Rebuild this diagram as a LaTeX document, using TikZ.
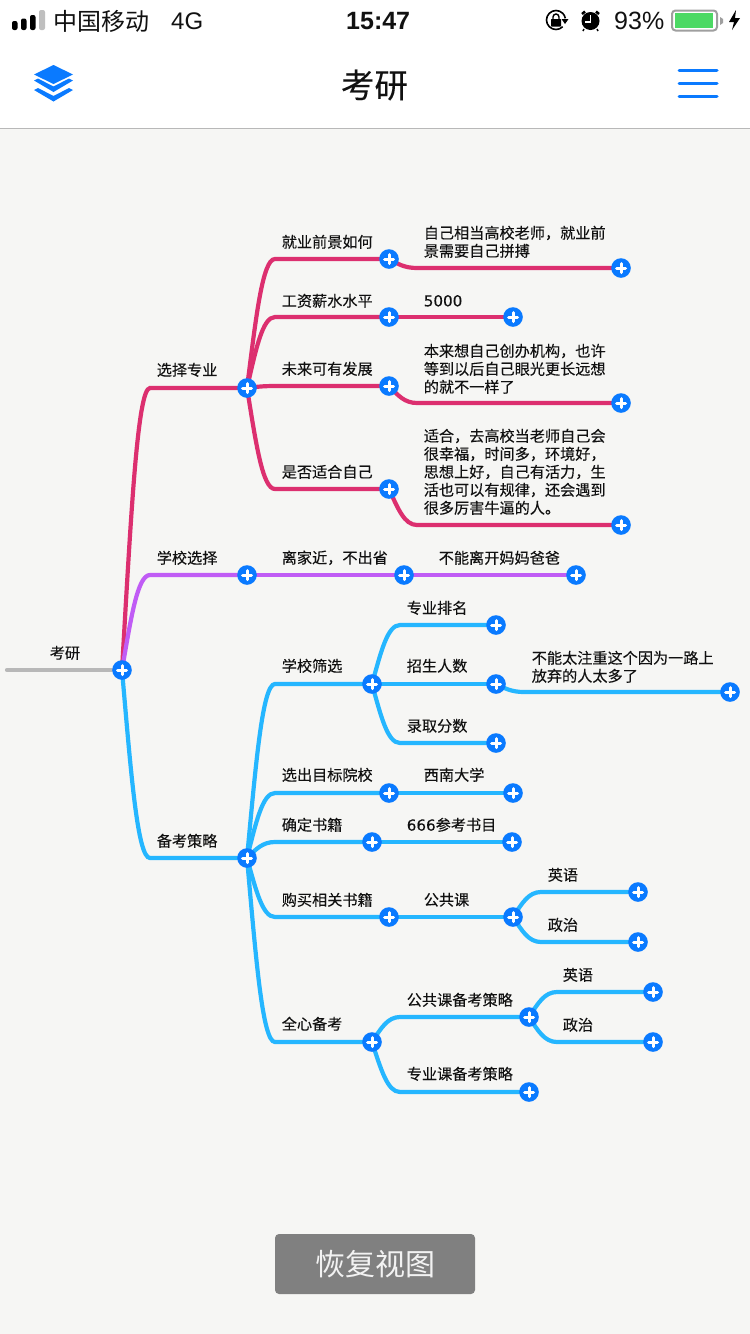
\documentclass[tikz,border=0pt]{standalone}
\usepackage{fontspec}
\setmainfont{Noto Sans CJK SC}
\newfontfamily\medf[FakeBold=0.2]{Noto Sans CJK SC}
\newfontfamily\digitf[FakeBold=0.1]{DejaVu Sans}
\newfontfamily\latinf{Liberation Sans}
\usetikzlibrary{calc,backgrounds}
\definecolor{bgc}{HTML}{F6F6F4}
\definecolor{pinkc}{HTML}{DC2F6F}
\definecolor{purpc}{HTML}{C05CF5}
\definecolor{bluec}{HTML}{25B6FF}
\definecolor{grayc}{HTML}{B8B8B8}
\definecolor{plusc}{HTML}{0A7AFF}
\definecolor{txtc}{HTML}{111111}
\definecolor{battg}{HTML}{4CD964}
\tikzset{
 x=1pt,y=-1pt,
 pl/.style={circle,fill=plusc,minimum size=19.6pt,inner sep=0pt,
  path picture={\draw[white,line width=3pt,line cap=round] ([xshift=-4.5pt]path picture bounding box.center)--([xshift=4.5pt]path picture bounding box.center);
  \draw[white,line width=3pt,line cap=round] ([yshift=-4.5pt]path picture bounding box.center)--([yshift=4.5pt]path picture bounding box.center);}},
 lab/.style={anchor=west,inner sep=0pt,align=left,text=txtc,xshift=-0.4pt,yshift=0.2pt,font=\medf\fontsize{15.15}{18}\selectfont},
 lnk/.style={line width=4.2pt,line cap=round},
 pk/.style={lnk,draw=pinkc},
 pu/.style={lnk,draw=purpc},
 bl/.style={lnk,draw=bluec},
 gr/.style={lnk,draw=grayc},
 stat/.style={anchor=west,inner sep=0pt,text=txtc},
}
\newcommand\conn[3]{\draw[#1] let \p1=(#2),\p2=(#3) in (\p1) .. controls ({\x1+9pt},{\y1+0.55*(\y2-\y1)}) and ({\x1+15.5pt},\y2) .. ({\x1+28pt},\y2) -- (\p2);}
\begin{document}
\begin{tikzpicture}
\useasboundingbox (0,0) rectangle (750,1334);
% plus nodes
\node[pl] (root) at (122,670) {};
\coordinate (start) at (7,670);
\node[pl] (a) at (247,388) {};
\node[pl] (a1) at (389,259) {};
\node[pl] (a2) at (389,317) {};
\node[pl] (a3) at (389,386) {};
\node[pl] (a4) at (389,489) {};
\node[pl] (a1x) at (621,268) {};
\node[pl] (a2x) at (513,317) {};
\node[pl] (a3x) at (621,403) {};
\node[pl] (a4x) at (621,525) {};
\node[pl] (b) at (247,575) {};
\node[pl] (b1) at (404,575) {};
\node[pl] (b2) at (576,575) {};
\node[pl] (c) at (247,858) {};
\node[pl] (c1) at (372,684) {};
\node[pl] (c11) at (496,625) {};
\node[pl] (c12) at (496,684) {};
\node[pl] (c13) at (496,743) {};
\node[pl] (c121) at (730,692) {};
\node[pl] (c2) at (389,793) {};
\node[pl] (c21) at (513,793) {};
\node[pl] (c3) at (372,842) {};
\node[pl] (c31) at (512,842) {};
\node[pl] (c4) at (389,917) {};
\node[pl] (c41) at (513,917) {};
\node[pl] (c411) at (638,892) {};
\node[pl] (c412) at (638,942) {};
\node[pl] (c5) at (372,1042) {};
\node[pl] (c51) at (529,1017) {};
\node[pl] (c511) at (653,992) {};
\node[pl] (c512) at (653,1042) {};
\node[pl] (c52) at (529,1092) {};
\begin{pgfonlayer}{background}
\fill[white] (0,0) rectangle (750,1334);
\fill[bgc] (0,128) rectangle (750,1334);
\draw[gr] (start) -- (root);
\conn{pk}{root}{a}
\conn{pk}{a}{a1}\conn{pk}{a}{a2}\conn{pk}{a}{a3}\conn{pk}{a}{a4}
\conn{pk}{a1}{a1x}\conn{pk}{a2}{a2x}\conn{pk}{a3}{a3x}\conn{pk}{a4}{a4x}
\conn{bl}{root}{c}
\conn{bl}{c}{c1}\conn{bl}{c}{c2}\conn{bl}{c}{c3}\conn{bl}{c}{c4}\conn{bl}{c}{c5}
\conn{bl}{c1}{c11}\conn{bl}{c1}{c12}\conn{bl}{c1}{c13}\conn{bl}{c12}{c121}
\conn{bl}{c2}{c21}\conn{bl}{c3}{c31}\conn{bl}{c4}{c41}
\conn{bl}{c41}{c411}\conn{bl}{c41}{c412}
\conn{bl}{c5}{c51}\conn{bl}{c5}{c52}\conn{bl}{c51}{c511}\conn{bl}{c51}{c512}
\conn{pu}{root}{b}
\conn{pu}{b}{b1}\conn{pu}{b1}{b2}
\end{pgfonlayer}
% labels
\node[lab] (t0) at (50,653) {考研};
\node[lab] (ta) at (157,370) {选择专业};
\node[lab] (ta1) at (282,242) {就业前景如何};
\node[lab] (ta2) at (282,301) {工资薪水水平};
\node[lab] (ta3) at (282,369) {未来可有发展};
\node[lab] (ta4) at (282,472) {是否适合自己};
\node[lab] (ta1x) at (424,242) {自己相当高校老师，就业前\\景需要自己拼搏};
\node[lab] (ta2x) at (424,301) {{\digitf 5000}};
\node[lab] (ta3x) at (424,369) {本来想自己创办机构，也许\\等到以后自己眼光更长远想\\的就不一样了};
\node[lab] (ta4x) at (424,472) {适合，去高校当老师自己会\\很幸福，时间多，环境好，\\思想上好，自己有活力，生\\活也可以有规律，还会遇到\\很多厉害牛逼的人。};
\node[lab] (tb) at (157,558) {学校选择};
\node[lab] (tb1) at (282,558) {离家近，不出省};
\node[lab] (tb2) at (439,558) {不能离开妈妈爸爸};
\node[lab] (tc) at (157,841) {备考策略};
\node[lab] (tc1) at (282,666) {学校筛选};
\node[lab] (tc11) at (407,608) {专业排名};
\node[lab] (tc12) at (407,666) {招生人数};
\node[lab] (tc13) at (407,726) {录取分数};
\node[lab] (tc121) at (532,667) {不能太注重这个因为一路上\\放弃的人太多了};
\node[lab] (tc2) at (282,775) {选出目标院校};
\node[lab] (tc21) at (424,775) {西南大学};
\node[lab] (tc3) at (282,825) {确定书籍};
\node[lab] (tc31) at (407,825) {{\digitf 666}参考书目};
\node[lab] (tc4) at (282,900) {购买相关书籍};
\node[lab] (tc41) at (424,900) {公共课};
\node[lab] (tc411) at (548,875) {英语};
\node[lab] (tc412) at (548,925) {政治};
\node[lab] (tc5) at (282,1024) {全心备考};
\node[lab] (tc51) at (407,1000) {公共课备考策略};
\node[lab] (tc511) at (563,975) {英语};
\node[lab] (tc512) at (563,1025) {政治};
\node[lab] (tc52) at (407,1074) {专业课备考策略};
% header
\draw[color=grayc,line width=1pt] (0,128) -- (750,128);
\node[inner sep=0pt,text=txtc,font=\medf\fontsize{33.5}{36}\selectfont] (title) at (374.5,85) {考研};
\fill[plusc] (53.5,65) -- (73,74.5) -- (53.5,84) -- (34,74.5) -- cycle;
\fill[plusc] (34,80.5) -- (38,78.5) -- (53.5,86.5) -- (69,78.5) -- (73,80.5) -- (53.5,92) -- cycle;
\fill[plusc] (34,90) -- (38,88) -- (53.5,96) -- (69,88) -- (73,90) -- (53.5,101.5) -- cycle;
\foreach \yy in {70,83,96} \draw[plusc,line width=3pt,line cap=round] (679,\yy) -- (717,\yy);
% status bar
\fill[black,rounded corners=2pt] (12,21) rectangle (17.5,30);
\fill[black,rounded corners=2pt] (21,18.5) rectangle (26.5,30);
\fill[black,rounded corners=2pt] (30,15) rectangle (35.5,30);
\fill[grayc!90,rounded corners=2pt] (39,10) rectangle (45,30);
\node[stat,font=\fontsize{24}{26}\selectfont] (carrier) at (53,21) {中国移动};
\node[stat,font=\latinf\fontsize{24}{26}\selectfont] (net) at (171,21) {4G};
\node[stat,font=\latinf\bfseries\fontsize{25}{26}\selectfont] (time) at (346,21) {15:47};
\node[stat,font=\latinf\fontsize{25}{26}\selectfont] (pct) at (614,21) {93\%};
% rotation lock
\draw[black,line width=1.6pt] (556,20) ++(45:9.5) arc[start angle=45,end angle=350,radius=9.5];
\fill[black] (561.5,19) -- (568.5,19) -- (565,24) -- cycle;
\fill[black,rounded corners=0.7pt] (551,19) rectangle (561,26.5);
\draw[black,line width=1.4pt] (553,19) -- (553,17) arc[start angle=180,end angle=360,radius=3] -- (559,19);
% alarm
\fill[black] (590.5,21) circle (9);
\draw[white,line width=1.5pt] (590.5,15) -- (590.5,22) -- (585,22);
\draw[black,line width=2.5pt] (582,14) -- (585,11.5);
\draw[black,line width=2.5pt] (599,14) -- (596,11.5);
\draw[black,line width=1.5pt] (584,29) -- (583,31);
\draw[black,line width=1.5pt] (597,29) -- (598,31);
% battery
\draw[color=gray!75,line width=2pt,rounded corners=3.5pt] (672,10.5) rectangle (717,30.5);
\fill[battg] (674.5,12.7) rectangle (712.7,28.3);
\fill[gray!75] (720,17) -- (723,19) -- (723,23) -- (720,25) -- cycle;
\fill[black] (736,10) -- (729,22) -- (734,22) -- (732,30) -- (740,18) -- (735,18) -- cycle;
% button
\node[fill=gray,rounded corners=4pt,minimum width=200pt,minimum height=60pt,inner sep=0pt,text=white!90!gray,font=\fontsize{30}{34}\selectfont] (btn) at (375,1264) {恢复视图};
\end{tikzpicture}
\end{document}
